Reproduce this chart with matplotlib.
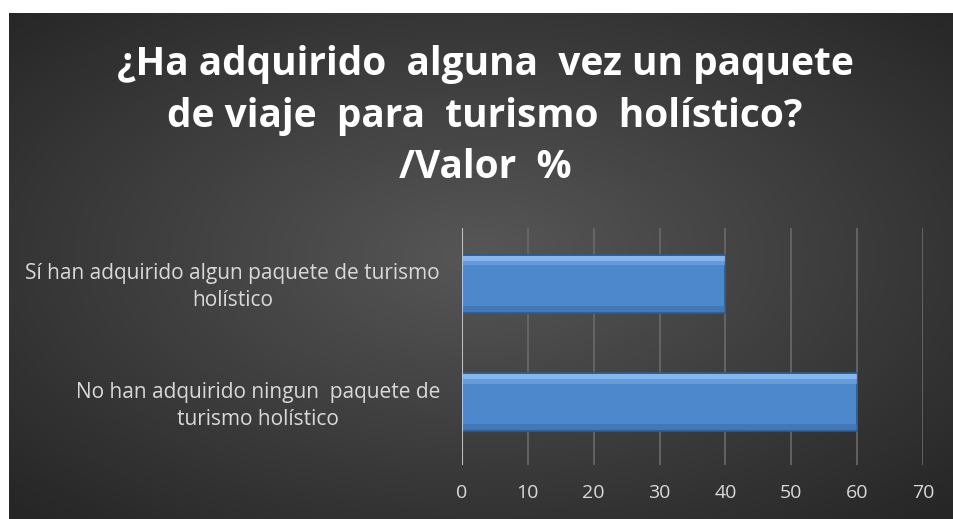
import numpy as np
import matplotlib.pyplot as plt
import matplotlib.transforms as mtransforms

categorias = ['No han adquirido ningun  paquete de\nturismo holístico',
              'Sí han adquirido algun paquete de turismo\nholístico']
valores = [60, 40]
ticks = [0, 10, 20, 30, 40, 50, 60, 70]
titulo = '¿Ha adquirido  alguna  vez un paquete\nde viaje  para  turismo  holístico?\n/Valor  %'

W, H = 954, 519
fig = plt.figure(figsize=(W / 100, H / 100), dpi=100, facecolor='white')

# fondo oscuro con degradado radial
bg = fig.add_axes([9 / W, 0, 1 - 9 / W, 1 - 13 / H])
yy, xx = np.mgrid[0:1:300j, 0:1:500j]
r = np.sqrt(((xx - 0.5) / 0.75) ** 2 + ((yy - 0.48) / 0.75) ** 2)
r = np.clip(r / 0.94, 0, 1)
lum = 0.34 - 0.19 * r
img = np.dstack([lum, lum, lum])
bg.imshow(img, aspect='auto', extent=[0, 1, 0, 1], interpolation='bicubic')
bg.axis('off')

ax = fig.add_axes([462 / W, 1 - 465 / H, 461 / W, 237 / H])
ax.patch.set_alpha(0)
y = np.arange(len(valores))

# barras con efecto bisel
ax.barh(y + 0.03, valores, height=0.49, color='#4d88cc', edgecolor='#2c5a8f', linewidth=1.2, zorder=3)
ax.barh(y + 0.245, valores, height=0.04, color='#9cc6f5', linewidth=0, zorder=4, alpha=0.75)
ax.barh(y + 0.205, valores, height=0.04, color='#76a9e6', linewidth=0, zorder=4, alpha=0.6)
ax.barh(y - 0.18, valores, height=0.05, color='#3d72b2', linewidth=0, zorder=4, alpha=0.7)

ax.set_xlim(0, 70)
ax.set_ylim(-0.5, 1.5)
ax.set_xticks(ticks)
ax.grid(axis='x', color='#6a6a6a', linewidth=1.2, zorder=0)
ax.axvline(0, color='#bfbfbf', linewidth=1.5, zorder=5)
for s in ax.spines.values():
    s.set_visible(False)
ax.tick_params(length=0, pad=14, labelsize=14, labelcolor='#d9d9d9')
for lbl in ax.get_xticklabels():
    lbl.set_family('Open Sans')

# etiquetas de categorías centradas
ax.set_yticks([])
trans = mtransforms.blended_transform_factory(ax.transAxes, ax.transData) + \
    mtransforms.ScaledTranslation(-22 / 100, 0, fig.dpi_scale_trans)
for yi, cat in zip(y, categorias):
    ax.text(0, yi, cat, transform=trans, ha='right', va='center', multialignment='center',
            fontsize=15, color='#d9d9d9', family='Open Sans', linespacing=1.35)

fig.text(485 / W, 1 - 116 / H, titulo, ha='center', va='center', color='white',
         fontsize=28, fontweight='bold', family='Open Sans', linespacing=1.4)

fig.savefig('out.png', dpi=100, facecolor='white')
